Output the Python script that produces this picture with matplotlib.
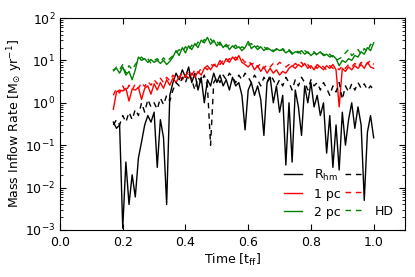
import numpy as np
import matplotlib
matplotlib.use("Agg")
import matplotlib.pyplot as plt

# time grid (t_ff), 0.17 .. 1.00 step 0.01
t_start, t_stop, n_pts = 0.17, 1.00, 84
time = np.linspace(t_start, t_stop, n_pts)

rhm = [0.35, 0.25, 0.3, 0.0011, 0.04, 0.004, 0.02, 0.006, 0.05, 0.12,
       0.3, 0.5, 0.35, 0.6, 0.03, 0.4, 0.15, 0.004, 1.5, 3.0,
       5.0, 3.5, 6.0, 4.0, 7.0, 3.0, 5.0, 2.0, 4.0, 1.0,
       3.5, 2.5, 5.0, 3.0, 4.5, 2.5, 3.5, 2.0, 4.0, 2.5,
       3.0, 1.5, 0.23, 2.0, 3.0, 1.5, 2.5, 1.2, 0.17, 3.0,
       4.0, 1.0, 2.5, 0.6, 1.5, 0.034, 1.0, 0.04, 2.0, 0.8,
       0.17, 2.5, 1.0, 3.0, 0.8, 1.5, 0.5, 1.0, 0.065, 0.5,
       0.03, 0.3, 0.026, 0.6, 0.1, 0.4, 1.0, 0.25, 0.8, 0.3,
       0.005, 0.2, 0.5, 0.15]
rhm_hd = [0.3, 0.4, 0.3, 0.5, 0.35, 0.6, 0.4, 0.7, 0.5, 1.0,
          0.6, 1.2, 0.8, 1.0, 0.7, 1.3, 0.9, 1.5, 1.1, 2.0,
          3.0, 2.5, 4.0, 3.0, 5.0, 3.5, 2.0, 4.0, 3.0, 4.5,
          2.5, 0.1, 3.0, 4.0, 3.0, 4.5, 3.5, 5.0, 4.0, 3.0,
          4.5, 3.5, 5.0, 4.0, 3.0, 4.5, 3.5, 2.5, 4.0, 3.0,
          4.5, 3.5, 2.5, 3.5, 2.5, 4.0, 3.0, 2.0, 3.5, 2.5,
          4.0, 3.0, 2.0, 3.5, 2.5, 3.0, 2.0, 3.0, 2.2, 1.5,
          2.5, 1.8, 3.0, 1.2, 2.5, 1.8, 2.8, 2.0, 3.0, 2.2,
          2.8, 2.0, 2.5, 2.0]
pc1 = [0.7, 1.8, 2.0, 1.9, 2.2, 1.1, 2.1, 2.0, 2.3, 1.2,
       2.2, 2.5, 1.6, 2.8, 2.0, 3.0, 2.2, 3.5, 2.6, 3.8,
       3.0, 4.2, 3.5, 4.5, 3.8, 5.0, 4.0, 5.5, 4.5, 6.5,
       7.5, 6.0, 8.0, 7.0, 10.0, 8.0, 11.0, 9.0, 12.0, 10.0,
       13.0, 9.0, 8.0, 7.0, 8.5, 6.0, 7.5, 5.5, 7.0, 5.0,
       6.5, 5.0, 6.0, 4.5, 5.5, 5.0, 6.5, 7.5, 6.5, 8.0,
       7.0, 8.5, 6.5, 7.5, 6.0, 8.0, 7.0, 6.0, 7.5, 6.5,
       8.0, 6.0, 0.8, 6.5, 5.5, 7.0, 6.0, 7.5, 6.5, 8.0,
       6.5, 9.0, 7.0, 6.5]
pc1_hd = [1.5, 2.2, 1.7, 2.5, 1.8, 2.6, 2.0, 2.8, 2.2, 3.0,
          2.4, 3.2, 2.6, 3.5, 2.8, 3.8, 3.0, 4.0, 3.3, 4.5,
          3.6, 4.0, 5.0, 4.2, 5.5, 4.5, 6.0, 5.0, 6.5, 7.0,
          6.0, 8.0, 7.5, 9.0, 8.0, 10.0, 9.0, 11.0, 10.0, 12.0,
          10.0, 11.0, 9.0, 10.0, 8.0, 9.0, 7.0, 8.5, 6.5, 8.0,
          7.0, 8.5, 7.5, 9.0, 8.0, 7.0, 8.0, 7.0, 8.5, 7.5,
          9.0, 7.0, 8.0, 6.5, 7.5, 6.5, 8.0, 7.0, 6.0, 7.5,
          6.5, 7.0, 6.0, 7.5, 6.5, 8.0, 7.0, 8.5, 7.0, 9.0,
          7.5, 8.5, 10.0, 8.0]
pc2 = [6.0, 6.5, 5.0, 7.0, 4.5, 5.5, 3.5, 6.0, 12.0, 10.0,
       11.0, 9.0, 10.5, 9.0, 10.0, 8.5, 10.0, 8.0, 9.5, 12.0,
       17.0, 13.0, 20.0, 15.0, 22.0, 18.0, 25.0, 20.0, 30.0, 26.0,
       35.0, 24.0, 30.0, 22.0, 27.0, 20.0, 24.0, 18.0, 22.0, 19.0,
       21.0, 17.0, 20.0, 28.0, 19.0, 22.0, 18.0, 21.0, 17.0, 20.0,
       18.0, 16.0, 19.0, 17.0, 18.0, 15.0, 17.0, 14.0, 16.0, 15.0,
       17.0, 14.0, 16.0, 13.0, 15.0, 14.0, 16.0, 13.0, 14.0, 12.0,
       13.0, 11.0, 7.5, 10.0, 9.0, 11.0, 10.0, 13.0, 12.0, 16.0,
       14.0, 20.0, 17.0, 26.0]
pc2_hd = [5.5, 7.0, 6.0, 8.0, 5.0, 7.5, 6.0, 8.0, 10.0, 12.0,
          10.0, 11.0, 8.5, 10.0, 11.0, 9.0, 11.5, 9.5, 11.0, 13.0,
          15.0, 18.0, 16.0, 21.0, 17.0, 23.0, 20.0, 27.0, 24.0, 31.0,
          28.0, 32.0, 25.0, 28.0, 23.0, 25.0, 21.0, 23.0, 20.0, 23.0,
          18.0, 21.0, 19.0, 23.0, 25.0, 20.0, 22.0, 19.0, 21.0, 18.0,
          20.0, 17.0, 18.0, 16.0, 19.0, 16.0, 18.0, 15.0, 17.0, 16.0,
          14.0, 17.0, 15.0, 14.0, 16.0, 13.0, 15.0, 14.0, 12.0, 14.0,
          12.0, 10.0, 11.0, 12.0, 15.0, 18.0, 13.0, 15.0, 18.0, 14.0,
          19.0, 16.0, 24.0, 20.0]

x_ticks = [0.0, 0.2, 0.4, 0.6, 0.8, 1.0]

plt.rcParams['lines.dashed_pattern'] = [4, 3.5]
plt.rcParams['lines.scale_dashes'] = False
plt.rcParams['font.family'] = ['DejaVu Sans']

fig = plt.figure(figsize=(4.15, 2.77), dpi=100)
ax = fig.add_axes([0.1446, 0.1697, 0.8314, 0.7653])

lw = 1.0
l1, = ax.plot(time, rhm, color='black', lw=lw)
l2, = ax.plot(time, pc1, color='red', lw=lw)
l3, = ax.plot(time, pc2, color='green', lw=lw)
d1, = ax.plot(time, rhm_hd, color='black', lw=lw, ls='--')
d2, = ax.plot(time, pc1_hd, color='red', lw=lw, ls='--')
d3, = ax.plot(time, pc2_hd, color='green', lw=lw, ls='--')

ax.set_yscale('log')
ax.set_xlim(0.0, 1.1)
ax.set_ylim(1e-3, 1e2)
ax.set_xticks(x_ticks)
ax.set_xticklabels([f"{v:.1f}" for v in x_ticks])
ax.tick_params(which='both', direction='in', top=True, right=True, labelsize=9)
ax.tick_params(axis='x', pad=4.5)
ax.tick_params(which='major', length=4)
ax.tick_params(which='minor', length=2)
ax.set_xlabel(r'Time [t$_{\rm ff}$]', fontsize=9, labelpad=2)
ax.set_ylabel(r'Mass Inflow Rate [M$_{\odot}$ yr$^{-1}$]', fontsize=9)
ax.yaxis.set_label_coords(-0.101, 0.5)

ax.legend([l1, l2, l3, d1, d2, d3],
          [r'R$_{\rm hm}$', '1 pc', '2 pc', '', '', 'HD'],
          ncol=2, loc='lower right', frameon=False, fontsize=9,
          handlelength=1.4, columnspacing=0.3, handletextpad=1.0,
          labelspacing=0.4, bbox_to_anchor=(1.0, 0.0))

fig.savefig('out.png', dpi=100)
